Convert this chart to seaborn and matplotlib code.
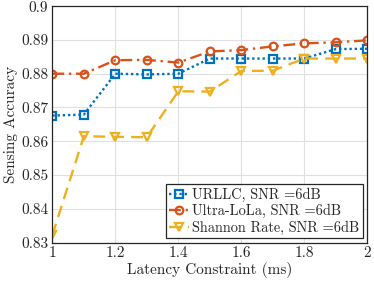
import matplotlib
matplotlib.use("Agg")
import matplotlib.pyplot as plt
import numpy as np
import pandas as pd
import seaborn as sb

latency = [1.0, 1.1, 1.2, 1.3, 1.4, 1.5, 1.6, 1.7, 1.8, 1.9, 2.0]
urllc = [0.8676, 0.8679, 0.8800, 0.8798, 0.8800, 0.8845, 0.8845, 0.8845, 0.8845, 0.8873, 0.8874]
ultra_lola = [0.8800, 0.8800, 0.8840, 0.8841, 0.8833, 0.8866, 0.8870, 0.8881, 0.8890, 0.8893, 0.8899]
shannon = [0.8322, 0.8615, 0.8613, 0.8612, 0.8748, 0.8747, 0.8808, 0.8809, 0.8845, 0.8845, 0.8845]

labels = ["URLLC, SNR =6dB", "Ultra-LoLa, SNR =6dB", "Shannon Rate, SNR =6dB"]
colors = ["#0072BD", "#D95319", "#EDB120"]
styles = [(0, (1, 1.2)), (0, (5, 2, 1, 2)), (0, (5, 3))]
markers = ["s", "o", "v"]

sb.set_theme(style="whitegrid")
plt.rcParams["font.family"] = ["cmr10", "DejaVu Serif"]
plt.rcParams["mathtext.fontset"] = "cm"
plt.rcParams["axes.formatter.use_mathtext"] = True

df = pd.DataFrame({"latency": latency, labels[0]: urllc, labels[1]: ultra_lola, labels[2]: shannon})
df = df.melt(id_vars="latency", var_name="scheme", value_name="acc")

fig, ax = plt.subplots(figsize=(3.74, 2.82), dpi=100)
for label, c, ls, m in zip(labels, colors, styles, markers):
    sub = df[df.scheme == label]
    sb.lineplot(data=sub, x="latency", y="acc", ax=ax, color=c, linestyle=ls, marker=m,
                markersize=5.5, markerfacecolor="none", markeredgecolor=c, markeredgewidth=1.6,
                linewidth=1.7, label=label)

ax.set(xlim=(1, 2), ylim=(0.83, 0.9))
ax.set_xticks(np.arange(1, 2.01, 0.2))
ax.set_xticklabels(["1", "1.2", "1.4", "1.6", "1.8", "2"])
ax.set_yticks(np.arange(0.83, 0.901, 0.01))
ax.set_yticklabels(["0.83", "0.84", "0.85", "0.86", "0.87", "0.88", "0.89", "0.9"])
ax.set_xlabel("Latency Constraint (ms)", fontsize=11, labelpad=1)
ax.set_ylabel("Sensing Accuracy", fontsize=11, labelpad=2)
ax.tick_params(axis="both", direction="in", length=3, labelsize=11, pad=3, color="#262626")
ax.grid(True, color="#e0e0e0", linewidth=0.8)
for s in ax.spines.values():
    s.set_color("#262626")
    s.set_linewidth(0.9)

leg = ax.legend(loc="lower right", fontsize=10.3, frameon=True, fancybox=False,
                edgecolor="#262626", framealpha=1, borderpad=0.25, labelspacing=0.15,
                handlelength=1.4, handletextpad=0.2, borderaxespad=0.3)
leg.get_frame().set_linewidth(0.9)

fig.subplots_adjust(left=0.14, right=0.982, bottom=0.14, top=0.978)
plt.savefig("out.png", dpi=100)
